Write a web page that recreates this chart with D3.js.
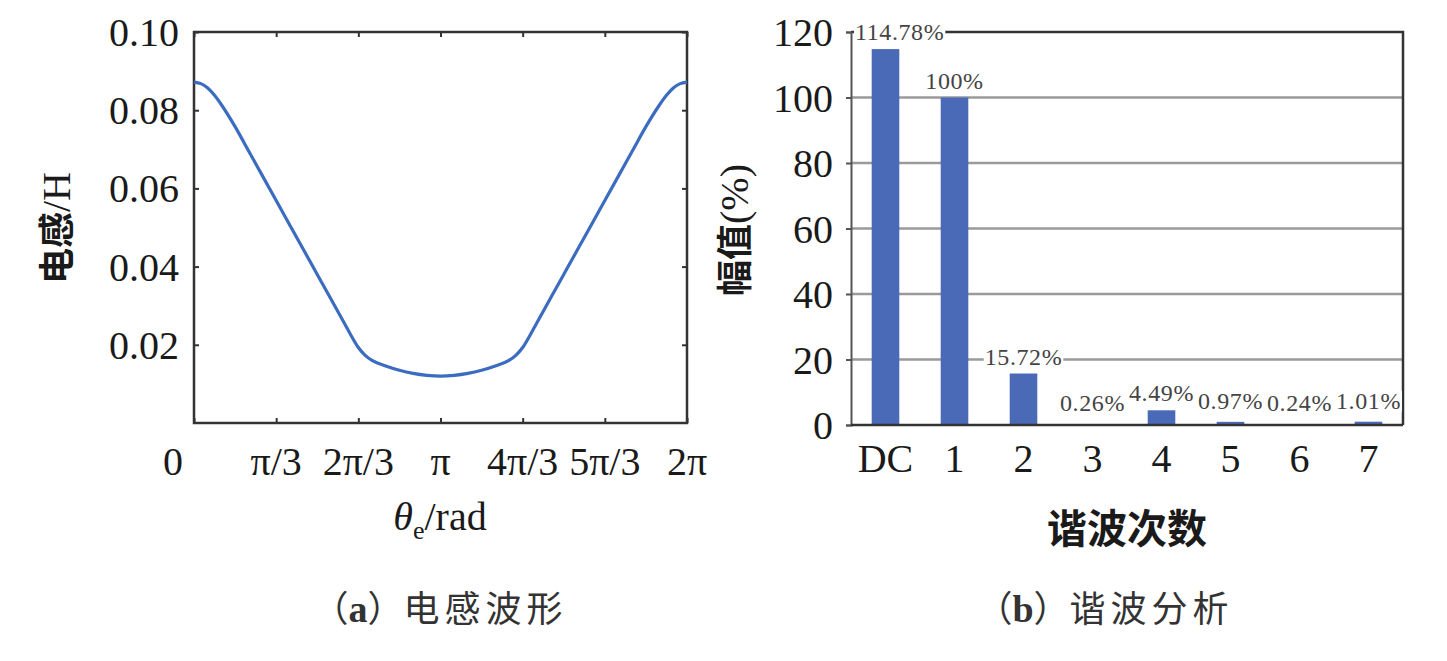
<!DOCTYPE html>
<html>
<head>
<meta charset="utf-8">
<script src="https://d3js.org/d3.v7.min.js"></script>
<style>
  body { margin: 0; background: #fff; }
  svg { display: block; }
  .serif { font-family: "Liberation Serif", "Times New Roman", serif; }
  .cjk { font-family: "Noto Sans CJK SC", sans-serif; }
</style>
</head>
<body>
<svg id="fig" width="1447" height="661"></svg>
<script>
// (a) inductance waveform, theta in degrees (0..360 = 0..2pi)
var thetaDeg = [0, 5, 10, 15, 20, 30, 40, 50, 60, 70, 80, 90, 100, 110, 115, 120, 125, 130, 140, 150, 160, 170, 180,
                190, 200, 210, 220, 230, 235, 240, 245, 250, 260, 270, 280, 290, 300, 310, 320, 330, 340, 345, 350, 355, 360];
var inductance = [0.0872, 0.0868, 0.0857, 0.0838, 0.0814, 0.0758, 0.0695, 0.0632, 0.0569, 0.0506, 0.0443, 0.0380, 0.0317, 0.0254, 0.0222, 0.0193, 0.0173, 0.0160, 0.0146, 0.0135, 0.0127, 0.0122, 0.0120,
                  0.0122, 0.0127, 0.0135, 0.0146, 0.0160, 0.0173, 0.0193, 0.0222, 0.0254, 0.0317, 0.0380, 0.0443, 0.0506, 0.0569, 0.0632, 0.0695, 0.0758, 0.0814, 0.0838, 0.0857, 0.0868, 0.0872];
var thetaTicks = [0, 60, 120, 180, 240, 300, 360];
var thetaTickLabels = ["0", "π/3", "2π/3", "π", "4π/3", "5π/3", "2π"];
var lTicks = [0.02, 0.04, 0.06, 0.08, 0.10];

// (b) harmonic analysis
var harmonicOrders = ["DC", "1", "2", "3", "4", "5", "6", "7"];
var harmonicAmp = [114.78, 100, 15.72, 0.26, 4.49, 0.97, 0.24, 1.01];
var ampTicks = [0, 20, 40, 60, 80, 100, 120];

var SERIF = '"Liberation Serif", "Times New Roman", serif';
var svg = d3.select("#fig");

// ---------- left panel ----------
var x1 = d3.scaleLinear().domain([0, 360]).range([194, 687]);
var y1 = d3.scaleLinear().domain([0, 0.1]).range([423, 32]);

var gl = svg.append("g");

// inward ticks on all four sides
gl.append("g").attr("transform", "translate(0," + y1(0) + ")")
  .call(d3.axisBottom(x1).tickValues(thetaTicks).tickSize(-5).tickFormat(""))
  .call(g => g.select(".domain").remove());
gl.append("g").attr("transform", "translate(0," + y1(0.1) + ")")
  .call(d3.axisTop(x1).tickValues(thetaTicks).tickSize(-5).tickFormat(""))
  .call(g => g.select(".domain").remove());
gl.append("g").attr("transform", "translate(" + x1(0) + ",0)")
  .call(d3.axisLeft(y1).tickValues(lTicks).tickSize(-5).tickFormat(""))
  .call(g => g.select(".domain").remove());
gl.append("g").attr("transform", "translate(" + x1(360) + ",0)")
  .call(d3.axisRight(y1).tickValues(lTicks).tickSize(-5).tickFormat(""))
  .call(g => g.select(".domain").remove());
gl.selectAll(".tick line").attr("stroke", "#333").attr("stroke-width", 2);

gl.append("rect")
  .attr("x", x1(0)).attr("y", y1(0.1))
  .attr("width", x1(360) - x1(0)).attr("height", y1(0) - y1(0.1))
  .attr("fill", "none").attr("stroke", "#333").attr("stroke-width", 2.5);

var line = d3.line()
  .x(function(d, i) { return x1(thetaDeg[i]); })
  .y(function(d) { return y1(d); })
  .curve(d3.curveMonotoneX);

gl.append("path")
  .datum(inductance)
  .attr("d", line)
  .attr("fill", "none")
  .attr("stroke", "#3b6cc0")
  .attr("stroke-width", 3.2);

// y tick labels
gl.selectAll(".ylab").data(lTicks).enter().append("text")
  .attr("font-family", SERIF)
  .attr("x", 179).attr("y", function(d) { return y1(d) + 14; })
  .attr("text-anchor", "end")
  .attr("font-size", 40).attr("fill", "#1a1a1a")
  .text(function(d) { return d.toFixed(2); });

// x tick labels
gl.selectAll(".xlab").data(thetaTicks).enter().append("text")
  .attr("font-family", SERIF)
  .attr("x", function(d, i) { return i == 0 ? x1(d) - 21 : x1(d); })
  .attr("y", 475)
  .attr("text-anchor", "middle")
  .attr("font-size", 40).attr("fill", "#1a1a1a")
  .text(function(d, i) { return thetaTickLabels[i]; });

// axis titles
var xt = gl.append("text").attr("font-family", SERIF)
  .attr("x", 440).attr("y", 530).attr("text-anchor", "middle")
  .attr("font-size", 40).attr("fill", "#1a1a1a");
xt.append("tspan").attr("font-style", "italic").text("θ");
xt.append("tspan").attr("font-size", 26).attr("dy", 9).text("e");
xt.append("tspan").attr("dy", -9).text("/rad");

var yt = gl.append("text")
  .attr("transform", "translate(70,228) rotate(-90)")
  .attr("text-anchor", "middle").attr("fill", "#1a1a1a");
yt.append("tspan").attr("class", "cjk").attr("font-size", 36).attr("font-weight", 700).text("电感");
yt.append("tspan").attr("font-family", SERIF).attr("font-size", 40).text("/H");

// ---------- right panel ----------
var x2 = d3.scaleBand().domain(harmonicOrders).range([851, 1403]).paddingInner(0.6).paddingOuter(0.3);
var y2 = d3.scaleLinear().domain([0, 120]).range([425, 32]);

var gr = svg.append("g");

// gridlines
gr.selectAll(".grid").data(ampTicks.filter(function(d) { return d > 0 && d < 120; })).enter().append("line")
  .attr("x1", 851).attr("x2", 1403)
  .attr("y1", function(d) { return y2(d); }).attr("y2", function(d) { return y2(d); })
  .attr("stroke", "#9a9a9a").attr("stroke-width", 2.5);
// top and right border
gr.append("path")
  .attr("d", "M851," + y2(120) + "H1403V" + y2(0))
  .attr("fill", "none").attr("stroke", "#333").attr("stroke-width", 2.5);

// left axis with outward ticks
gr.append("g").attr("transform", "translate(851,0)")
  .call(d3.axisLeft(y2).tickValues(ampTicks).tickSize(5).tickFormat(""))
  .call(g => g.selectAll("line, path").attr("stroke", "#555").attr("stroke-width", 2));

// bars
gr.selectAll(".bar").data(harmonicAmp).enter().append("rect")
  .attr("x", function(d, i) { return x2(harmonicOrders[i]); })
  .attr("y", function(d) { return y2(d); })
  .attr("width", x2.bandwidth())
  .attr("height", function(d) { return y2(0) - y2(d); })
  .attr("fill", "#4a69b6");

// bottom axis line
gr.append("line").attr("x1", 851).attr("x2", 1403).attr("y1", y2(0)).attr("y2", y2(0))
  .attr("stroke", "#333").attr("stroke-width", 2.5);

// value labels with white background
var lab = gr.selectAll(".vlab").data(harmonicAmp).enter().append("g");
lab.append("rect").attr("fill", "#fff");
lab.append("text")
  .attr("font-family", SERIF)
  .attr("text-anchor", "middle")
  .attr("font-size", 24).attr("letter-spacing", 0.6).attr("fill", "#444")
  .attr("x", function(d, i) { return x2(harmonicOrders[i]) + x2.bandwidth() / 2; })
  .attr("y", function(d) { return y2(d) - (d < 2 ? 13 : 9); })
  .text(function(d) { return d + "%"; });
lab.each(function() {
  var t = d3.select(this).select("text");
  var bb = t.node().getBBox();
  if (bb.x < 855) { t.attr("x", +t.attr("x") + (855 - bb.x)); bb = t.node().getBBox(); }
  d3.select(this).select("rect")
    .attr("x", bb.x - 1).attr("y", bb.y + 3).attr("width", bb.width + 2).attr("height", bb.height - 5);
});

// y tick labels
gr.selectAll(".ylab").data(ampTicks).enter().append("text")
  .attr("font-family", SERIF)
  .attr("x", 833).attr("y", function(d) { return y2(d) + 14; })
  .attr("text-anchor", "end")
  .attr("font-size", 40).attr("fill", "#1a1a1a")
  .text(function(d) { return d; });

// x tick labels
gr.selectAll(".xlab").data(harmonicOrders).enter().append("text")
  .attr("font-family", SERIF)
  .attr("x", function(d) { return x2(d) + x2.bandwidth() / 2; })
  .attr("y", 472)
  .attr("text-anchor", "middle")
  .attr("font-size", 40).attr("fill", "#1a1a1a")
  .text(function(d) { return d; });

// axis titles
gr.append("text").attr("class", "cjk")
  .attr("x", 1127).attr("y", 543).attr("text-anchor", "middle")
  .attr("font-size", 40).attr("font-weight", 700).attr("fill", "#1a1a1a")
  .text("谐波次数");

var yt2 = gr.append("text")
  .attr("transform", "translate(748,230) rotate(-90)")
  .attr("text-anchor", "middle").attr("fill", "#1a1a1a");
yt2.append("tspan").attr("class", "cjk").attr("font-size", 36).attr("font-weight", 700).text("幅值");
yt2.append("tspan").attr("font-family", SERIF).attr("font-size", 40).text("(%)");

// ---------- captions ----------
svg.selectAll(".cap").data([{x: 440, a: "a", t: "电感波形"}, {x: 1105, a: "b", t: "谐波分析"}])
  .enter().append("text")
  .attr("x", function(d) { return d.x; }).attr("y", 622)
  .attr("text-anchor", "middle")
  .attr("font-size", 36).attr("fill", "#333")
  .each(function(d) {
    var t = d3.select(this);
    t.append("tspan").attr("class", "cjk").text("（");
    t.append("tspan").attr("font-family", SERIF).attr("font-weight", 700).attr("font-size", 38).text(d.a);
    t.append("tspan").attr("class", "cjk").text("）");
    t.append("tspan").attr("class", "cjk").attr("letter-spacing", 5).text(d.t);
  });
</script>
</body>
</html>
